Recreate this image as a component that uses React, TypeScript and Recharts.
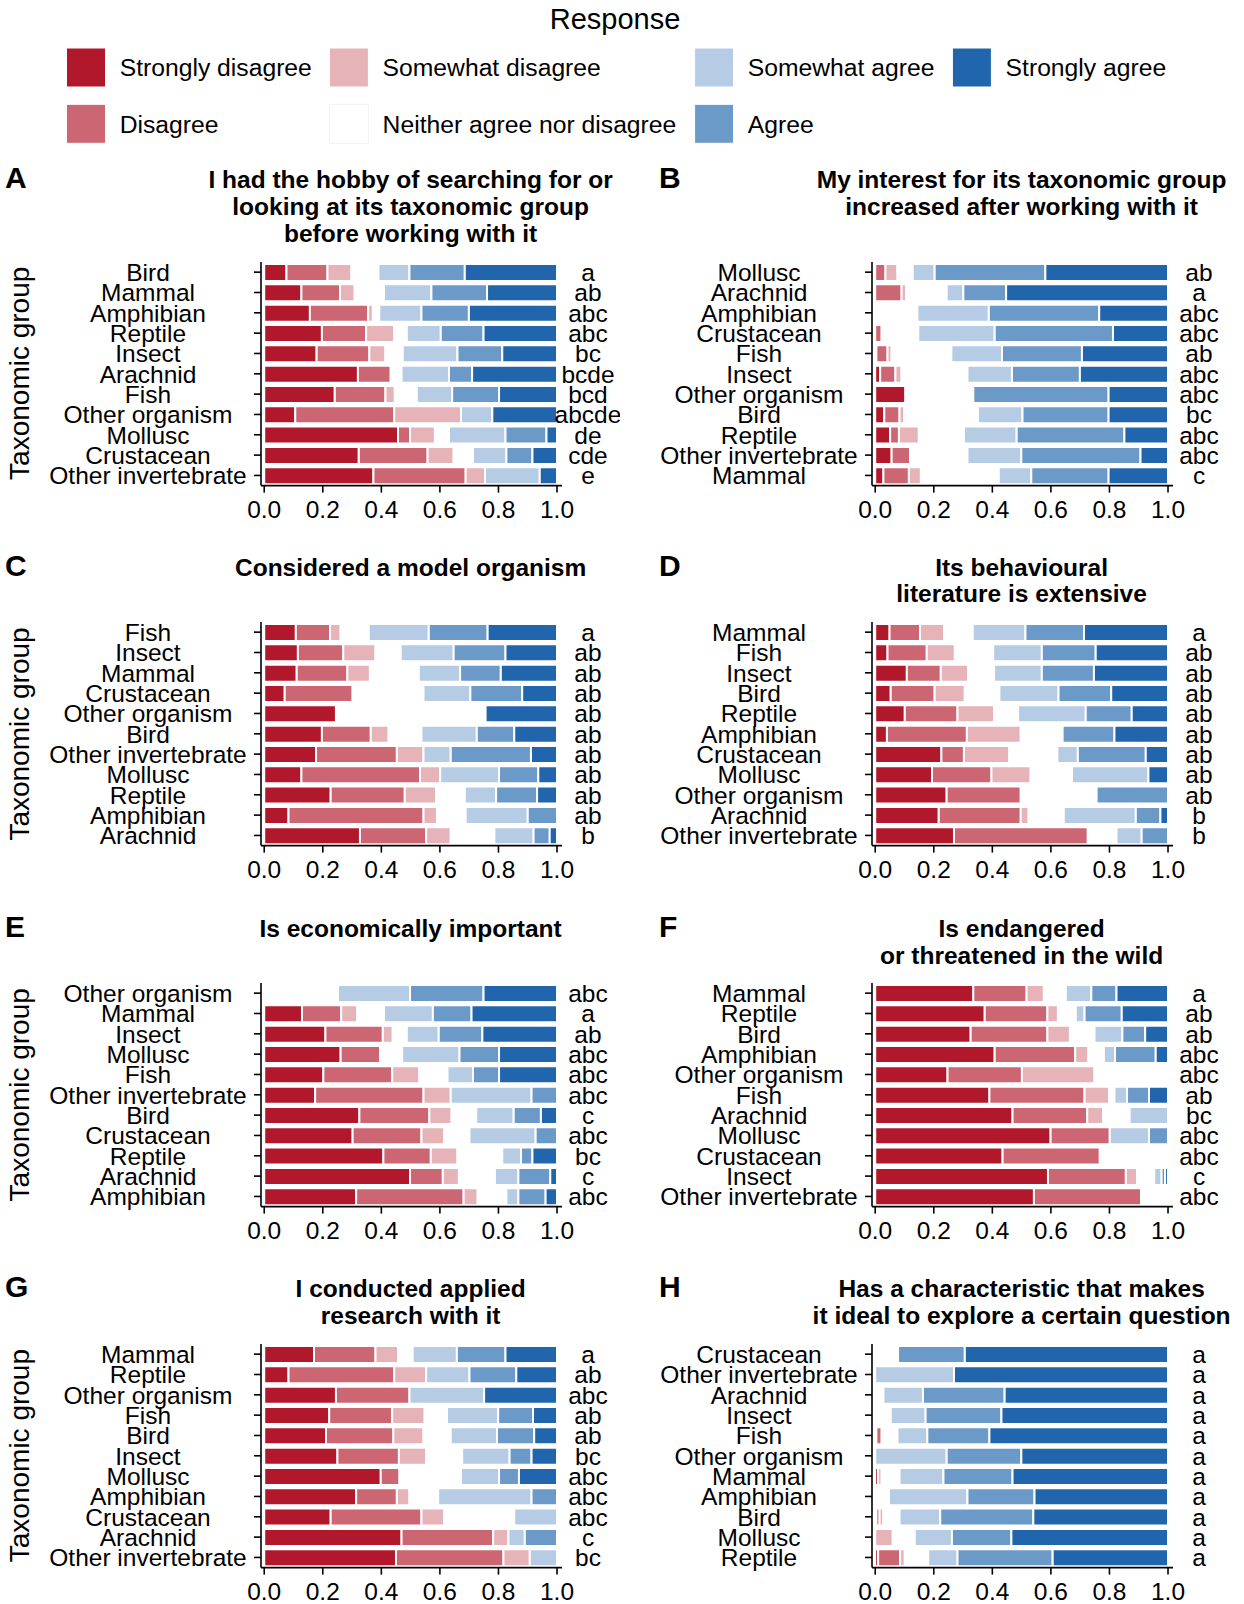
import React from "react";
import { BarChart, Bar, XAxis, YAxis } from "recharts";

const FONT = "'Liberation Sans', Arial, Helvetica, sans-serif";

const RESPONSES = [
  "Strongly disagree",
  "Disagree",
  "Somewhat disagree",
  "Neither agree nor disagree",
  "Somewhat agree",
  "Agree",
  "Strongly agree",
];
const COLORS = ["#B2182B", "#CC6673", "#E6B3B9", "#FFFFFF", "#B6CCE4", "#6C9AC8", "#2166AC"];
const X_TICKS = [0, 0.2, 0.4, 0.6, 0.8, 1.0];

// Panel A
const titleA = ["I had the hobby of searching for or", "looking at its taxonomic group", "before working with it"];
const groupsA = ["Bird", "Mammal", "Amphibian", "Reptile", "Insect", "Arachnid", "Fish", "Other organism", "Mollusc", "Crustacean", "Other invertebrate"];
const lettersA = ["a", "ab", "abc", "abc", "bc", "bcde", "bcd", "abcde", "de", "cde", "e"];
const valuesA = [
  [0.076, 0.140, 0.082, 0.092, 0.106, 0.189, 0.315],
  [0.127, 0.132, 0.050, 0.100, 0.162, 0.190, 0.239],
  [0.156, 0.199, 0.016, 0.022, 0.144, 0.162, 0.301],
  [0.197, 0.151, 0.096, 0.043, 0.116, 0.146, 0.251],
  [0.179, 0.180, 0.055, 0.059, 0.187, 0.153, 0.187],
  [0.320, 0.112, 0.000, 0.037, 0.162, 0.079, 0.290],
  [0.241, 0.173, 0.032, 0.075, 0.121, 0.160, 0.198],
  [0.106, 0.338, 0.228, 0.000, 0.107, 0.000, 0.221],
  [0.457, 0.041, 0.085, 0.048, 0.193, 0.140, 0.036],
  [0.323, 0.235, 0.089, 0.066, 0.114, 0.089, 0.084],
  [0.373, 0.315, 0.066, 0.000, 0.187, 0.000, 0.059],
];

// Panel B
const titleB = ["My interest for its taxonomic group", "increased after working with it"];
const groupsB = ["Mollusc", "Arachnid", "Amphibian", "Crustacean", "Fish", "Insect", "Other organism", "Bird", "Reptile", "Other invertebrate", "Mammal"];
const lettersB = ["ab", "a", "abc", "abc", "ab", "abc", "abc", "bc", "abc", "abc", "c"];
const valuesB = [
  [0.000, 0.035, 0.041, 0.052, 0.075, 0.378, 0.419],
  [0.000, 0.090, 0.016, 0.138, 0.057, 0.146, 0.553],
  [0.000, 0.000, 0.000, 0.144, 0.244, 0.377, 0.235],
  [0.000, 0.022, 0.000, 0.125, 0.261, 0.404, 0.188],
  [0.004, 0.038, 0.014, 0.204, 0.173, 0.273, 0.294],
  [0.017, 0.052, 0.021, 0.225, 0.152, 0.232, 0.301],
  [0.103, 0.000, 0.000, 0.232, 0.000, 0.462, 0.203],
  [0.031, 0.052, 0.016, 0.252, 0.152, 0.294, 0.203],
  [0.051, 0.030, 0.068, 0.154, 0.180, 0.368, 0.149],
  [0.056, 0.063, 0.000, 0.196, 0.184, 0.407, 0.094],
  [0.028, 0.087, 0.041, 0.266, 0.111, 0.264, 0.203],
];

// Panel C
const titleC = ["Considered a model organism"];
const groupsC = ["Fish", "Insect", "Mammal", "Crustacean", "Other organism", "Bird", "Other invertebrate", "Mollusc", "Reptile", "Amphibian", "Arachnid"];
const lettersC = ["a", "ab", "ab", "ab", "ab", "ab", "ab", "ab", "ab", "ab", "b"];
const valuesC = [
  [0.108, 0.117, 0.036, 0.096, 0.205, 0.201, 0.237],
  [0.115, 0.155, 0.110, 0.086, 0.181, 0.177, 0.176],
  [0.111, 0.173, 0.077, 0.167, 0.141, 0.139, 0.192],
  [0.070, 0.232, 0.000, 0.242, 0.160, 0.177, 0.119],
  [0.245, 0.000, 0.000, 0.511, 0.000, 0.000, 0.244],
  [0.197, 0.167, 0.061, 0.112, 0.189, 0.128, 0.146],
  [0.177, 0.276, 0.091, 0.000, 0.093, 0.274, 0.089],
  [0.127, 0.405, 0.069, 0.000, 0.201, 0.134, 0.064],
  [0.227, 0.253, 0.107, 0.098, 0.107, 0.140, 0.068],
  [0.083, 0.461, 0.046, 0.098, 0.212, 0.100, 0.000],
  [0.327, 0.226, 0.084, 0.149, 0.134, 0.055, 0.025],
];

// Panel D
const titleD = ["Its behavioural", "literature is extensive"];
const groupsD = ["Mammal", "Fish", "Insect", "Bird", "Reptile", "Amphibian", "Crustacean", "Mollusc", "Other organism", "Arachnid", "Other invertebrate"];
const lettersD = ["a", "ab", "ab", "ab", "ab", "ab", "ab", "ab", "ab", "b", "b"];
const valuesD = [
  [0.049, 0.104, 0.082, 0.098, 0.180, 0.200, 0.287],
  [0.042, 0.134, 0.096, 0.131, 0.166, 0.184, 0.247],
  [0.108, 0.116, 0.093, 0.089, 0.163, 0.178, 0.253],
  [0.053, 0.150, 0.103, 0.118, 0.202, 0.180, 0.194],
  [0.101, 0.180, 0.125, 0.082, 0.231, 0.157, 0.124],
  [0.040, 0.273, 0.184, 0.143, 0.000, 0.177, 0.183],
  [0.226, 0.077, 0.155, 0.164, 0.070, 0.232, 0.076],
  [0.194, 0.203, 0.134, 0.141, 0.261, 0.000, 0.067],
  [0.244, 0.253, 0.000, 0.259, 0.000, 0.244, 0.000],
  [0.217, 0.280, 0.027, 0.120, 0.246, 0.084, 0.026],
  [0.269, 0.457, 0.000, 0.098, 0.086, 0.090, 0.000],
];

// Panel E
const titleE = ["Is economically important"];
const groupsE = ["Other organism", "Mammal", "Insect", "Mollusc", "Fish", "Other invertebrate", "Bird", "Crustacean", "Reptile", "Arachnid", "Amphibian"];
const lettersE = ["abc", "a", "ab", "abc", "abc", "abc", "c", "abc", "bc", "c", "abc"];
const valuesE = [
  [0.000, 0.000, 0.000, 0.252, 0.246, 0.251, 0.251],
  [0.129, 0.134, 0.055, 0.091, 0.167, 0.132, 0.292],
  [0.209, 0.196, 0.034, 0.048, 0.109, 0.149, 0.255],
  [0.261, 0.135, 0.000, 0.075, 0.196, 0.135, 0.198],
  [0.202, 0.235, 0.093, 0.096, 0.087, 0.089, 0.198],
  [0.174, 0.370, 0.093, 0.000, 0.276, 0.087, 0.000],
  [0.325, 0.239, 0.076, 0.084, 0.128, 0.093, 0.055],
  [0.302, 0.235, 0.078, 0.086, 0.226, 0.073, 0.000],
  [0.407, 0.162, 0.091, 0.153, 0.064, 0.039, 0.084],
  [0.498, 0.112, 0.055, 0.123, 0.080, 0.109, 0.023],
  [0.314, 0.367, 0.048, 0.098, 0.041, 0.093, 0.039],
];

// Panel F
const titleF = ["Is endangered", "or threatened in the wild"];
const groupsF = ["Mammal", "Reptile", "Bird", "Amphibian", "Other organism", "Fish", "Arachnid", "Mollusc", "Crustacean", "Insect", "Other invertebrate"];
const lettersF = ["a", "ab", "ab", "abc", "abc", "ab", "bc", "abc", "abc", "c", "abc"];
const valuesF = [
  [0.335, 0.182, 0.059, 0.075, 0.087, 0.086, 0.176],
  [0.374, 0.214, 0.036, 0.061, 0.030, 0.127, 0.158],
  [0.326, 0.262, 0.077, 0.084, 0.095, 0.078, 0.078],
  [0.408, 0.275, 0.045, 0.053, 0.038, 0.139, 0.042],
  [0.247, 0.254, 0.248, 0.251, 0.000, 0.000, 0.000],
  [0.390, 0.325, 0.084, 0.018, 0.043, 0.075, 0.065],
  [0.469, 0.255, 0.054, 0.091, 0.131, 0.000, 0.000],
  [0.599, 0.202, 0.000, 0.000, 0.134, 0.065, 0.000],
  [0.435, 0.332, 0.000, 0.233, 0.000, 0.000, 0.000],
  [0.590, 0.266, 0.038, 0.059, 0.025, 0.012, 0.010],
  [0.542, 0.366, 0.000, 0.092, 0.000, 0.000, 0.000],
];

// Panel G
const titleG = ["I conducted applied", "research with it"];
const groupsG = ["Mammal", "Reptile", "Other organism", "Fish", "Bird", "Insect", "Mollusc", "Amphibian", "Crustacean", "Arachnid", "Other invertebrate"];
const lettersG = ["a", "ab", "abc", "ab", "ab", "bc", "abc", "abc", "abc", "c", "bc"];
const valuesG = [
  [0.170, 0.210, 0.077, 0.050, 0.151, 0.166, 0.176],
  [0.083, 0.361, 0.109, 0.000, 0.148, 0.160, 0.139],
  [0.245, 0.251, 0.000, 0.000, 0.255, 0.000, 0.249],
  [0.222, 0.215, 0.111, 0.076, 0.175, 0.119, 0.082],
  [0.211, 0.230, 0.103, 0.093, 0.158, 0.127, 0.078],
  [0.250, 0.210, 0.093, 0.123, 0.162, 0.075, 0.087],
  [0.398, 0.064, 0.000, 0.210, 0.130, 0.068, 0.130],
  [0.314, 0.139, 0.043, 0.098, 0.319, 0.087, 0.000],
  [0.227, 0.310, 0.078, 0.239, 0.146, 0.000, 0.000],
  [0.469, 0.313, 0.052, 0.000, 0.056, 0.110, 0.000],
  [0.450, 0.367, 0.090, 0.000, 0.093, 0.000, 0.000],
];

// Panel H
const titleH = ["Has a characteristic that makes", "it ideal to explore a certain question"];
const groupsH = ["Crustacean", "Other invertebrate", "Arachnid", "Insect", "Fish", "Other organism", "Mammal", "Amphibian", "Bird", "Mollusc", "Reptile"];
const lettersH = ["a", "a", "a", "a", "a", "a", "a", "a", "a", "a", "a"];
const valuesH = [
  [0.000, 0.000, 0.000, 0.078, 0.000, 0.228, 0.694],
  [0.000, 0.000, 0.000, 0.000, 0.269, 0.000, 0.731],
  [0.000, 0.000, 0.000, 0.028, 0.135, 0.279, 0.558],
  [0.006, 0.000, 0.000, 0.047, 0.119, 0.259, 0.569],
  [0.004, 0.018, 0.000, 0.054, 0.102, 0.212, 0.610],
  [0.000, 0.000, 0.000, 0.000, 0.244, 0.255, 0.501],
  [0.010, 0.000, 0.012, 0.061, 0.150, 0.236, 0.531],
  [0.000, 0.000, 0.000, 0.047, 0.268, 0.229, 0.456],
  [0.004, 0.011, 0.013, 0.055, 0.139, 0.318, 0.460],
  [0.000, 0.000, 0.060, 0.075, 0.127, 0.203, 0.535],
  [0.010, 0.075, 0.016, 0.080, 0.100, 0.325, 0.394],
];

const PANEL_LETTERS = ["A", "B", "C", "D", "E", "F", "G", "H"];
const PANEL_TITLES = [titleA, titleB, titleC, titleD, titleE, titleF, titleG, titleH];
const PANEL_GROUPS = [groupsA, groupsB, groupsC, groupsD, groupsE, groupsF, groupsG, groupsH];
const PANEL_SIG = [lettersA, lettersB, lettersC, lettersD, lettersE, lettersF, lettersG, lettersH];
const PANEL_VALUES = [valuesA, valuesB, valuesC, valuesD, valuesE, valuesF, valuesG, valuesH];

// layout (page coordinates)
const COL_LEFT = [0, 611];
const PLOT_TOPS = [261.5, 622.2, 983, 1343.8];
const TITLE_BASE = [188, 575.5, 936.7, 1296.8];
const CHART_W = 620;
const MARGIN_TOP = 10;
const PLOT_H = 223.6;
const XAXIS_H = 40.4;
const CHART_H = MARGIN_TOP + PLOT_H + XAXIS_H;
const YAXIS_W = 261;
const RAXIS_W = 58;
const LABEL_CX = 148;
const SIG_CX = 588;
const FS = 24.5;

function Panel({ idx }: { idx: number }) {
  const groups = PANEL_GROUPS[idx];
  const sig = PANEL_SIG[idx];
  const vals = PANEL_VALUES[idx];
  const data = groups.map((g, i) => {
    const row: any = { group: g };
    vals[i].forEach((v, j) => {
      row["r" + j] = v;
    });
    return row;
  });
  const col = idx % 2;
  const rowI = Math.floor(idx / 2);
  const left = COL_LEFT[col];
  const top = PLOT_TOPS[rowI] - MARGIN_TOP;

  const yTick = (p: any) => (
    <text x={LABEL_CX} y={p.y + 8.8} textAnchor="middle" fontSize={FS} fontFamily={FONT} fill="#000">
      {p.payload.value}
    </text>
  );
  const sigTick = (p: any) => (
    <text x={SIG_CX} y={p.y + 8.8} textAnchor="middle" fontSize={FS} fontFamily={FONT} fill="#000">
      {sig[groups.indexOf(p.payload.value)]}
    </text>
  );
  const xTick = (p: any) => (
    <text x={p.x} y={p.y + 25} textAnchor="middle" fontSize={FS} fontFamily={FONT} fill="#000">
      {Number(p.payload.value).toFixed(1)}
    </text>
  );

  return (
    <div style={{ position: "absolute", left, top }}>
      <BarChart
        width={CHART_W}
        height={CHART_H}
        data={data}
        layout="vertical"
        margin={{ top: MARGIN_TOP, right: 0, bottom: 0, left: 0 }}
        barCategoryGap={0}
      >
        <XAxis
          type="number"
          domain={[-0.011, 1.017]}
          ticks={X_TICKS}
          allowDataOverflow
          interval={0}
          height={XAXIS_H}
          tickSize={7}
          tickMargin={0}
          axisLine={{ stroke: "#000", strokeWidth: 1.6 }}
          tickLine={{ stroke: "#000", strokeWidth: 1.6 }}
          tick={xTick}
        />
        <YAxis
          yAxisId="l"
          type="category"
          dataKey="group"
          width={YAXIS_W}
          interval={0}
          tickSize={7}
          tickMargin={0}
          axisLine={{ stroke: "#000", strokeWidth: 1.6 }}
          tickLine={{ stroke: "#000", strokeWidth: 1.6 }}
          tick={yTick}
        />
        <YAxis
          yAxisId="r"
          orientation="right"
          type="category"
          dataKey="group"
          width={RAXIS_W}
          interval={0}
          axisLine={false}
          tickLine={false}
          tick={sigTick}
        />
        {RESPONSES.map((r, j) => (
          <Bar
            key={r}
            yAxisId="l"
            dataKey={"r" + j}
            name={r}
            stackId="s"
            fill={COLORS[j]}
            stroke="#fff"
            strokeWidth={2}
            barSize={17}
            isAnimationActive={false}
          />
        ))}
      </BarChart>
    </div>
  );
}

function Overlay() {
  const legendSwatchX = [66.5, 329.4, 694.6, 952.4];
  const legendTextX = [119.7, 382.6, 747.8, 1005.6];
  const legendRowY = [48, 104.3];
  return (
    <svg width={1244} height={1604} style={{ position: "absolute", left: 0, top: 0 }}>
      <text x={615} y={28.8} textAnchor="middle" fontSize={29} fontFamily={FONT} fill="#000">
        Response
      </text>
      {RESPONSES.map((r, i) => {
        const c = Math.floor(i / 2);
        const rr = i % 2;
        return (
          <g key={r}>
            <rect
              x={legendSwatchX[c]}
              y={legendRowY[rr]}
              width={39}
              height={39}
              fill={COLORS[i]}
              stroke={i === 3 ? "#f2f2f2" : "#fff"}
              strokeWidth={1}
            />
            <text
              x={legendTextX[c]}
              y={legendRowY[rr] + 19.5 + 8.8}
              fontSize={24.7}
              fontFamily={FONT}
              fill="#000"
            >
              {r}
            </text>
          </g>
        );
      })}
      {PANEL_LETTERS.map((L, idx) => {
        const col = idx % 2;
        const rowI = Math.floor(idx / 2);
        const base = TITLE_BASE[rowI];
        const cx = COL_LEFT[col] + 410.6;
        return (
          <g key={L}>
            <text x={col === 0 ? 5 : 659} y={base} fontSize={30} fontWeight="bold" fontFamily={FONT} fill="#000">
              {L}
            </text>
            {PANEL_TITLES[idx].map((line, k) => (
              <text
                key={k}
                x={cx}
                y={base + k * 26.8}
                textAnchor="middle"
                fontSize={24.5}
                fontWeight="bold"
                fontFamily={FONT}
                fill="#000"
              >
                {line}
              </text>
            ))}
            {col === 0 && (
              <text
                transform={`translate(29, ${PLOT_TOPS[rowI] + PLOT_H / 2}) rotate(-90)`}
                textAnchor="middle"
                fontSize={28}
                fontFamily={FONT}
                fill="#000"
              >
                Taxonomic group
              </text>
            )}
          </g>
        );
      })}
    </svg>
  );
}

export default function App() {
  return (
    <div style={{ position: "absolute", left: 0, top: 0, width: 1244, height: 1604, background: "#fff" }}>
      <Overlay />
      {PANEL_LETTERS.map((L, idx) => (
        <Panel key={L} idx={idx} />
      ))}
    </div>
  );
}
